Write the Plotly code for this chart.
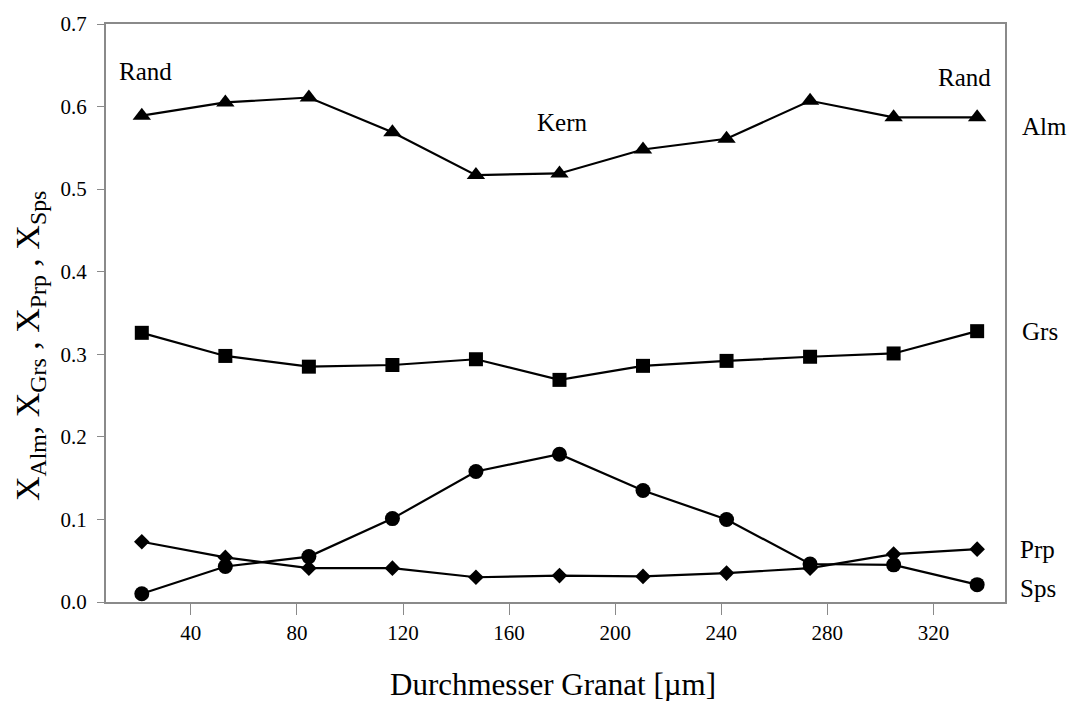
import plotly.graph_objects as go

# Data
diameter = [21.5, 53, 84.5, 116, 147.5, 179, 210.5, 242, 273.5, 305, 336.5]
alm = [0.589, 0.605, 0.611, 0.569, 0.517, 0.519, 0.548, 0.561, 0.607, 0.587, 0.587]
grs = [0.326, 0.298, 0.285, 0.287, 0.294, 0.269, 0.286, 0.292, 0.297, 0.301, 0.328]
prp = [0.073, 0.054, 0.041, 0.041, 0.030, 0.032, 0.031, 0.035, 0.041, 0.058, 0.064]
sps = [0.010, 0.043, 0.055, 0.101, 0.158, 0.179, 0.135, 0.100, 0.046, 0.045, 0.021]

x_ticks = [40, 80, 120, 160, 200, 240, 280, 320]
y_ticks = [0.0, 0.1, 0.2, 0.3, 0.4, 0.5, 0.6, 0.7]

FONT = "'Liberation Serif', 'Times New Roman', serif"

fig = go.Figure()

series = [
    ("Alm", alm, "triangle-up", 16),
    ("Grs", grs, "square", 14),
    ("Prp", prp, "diamond", 12),
    ("Sps", sps, "circle", 15),
]
for name, vals, sym, size in series:
    fig.add_trace(go.Scatter(
        x=diameter, y=vals, mode="lines+markers", name=name,
        line=dict(color="black", width=2.2),
        marker=dict(symbol=sym, size=size, color="black"),
        showlegend=False, cliponaxis=False,
    ))

L, R, T, B = 106, 65, 17, 99
W, H = 1070, 701
pw = W - L - R
ph = H - T - B

def px(xp):
    return (xp - L) / pw

def py(yp):
    return (H - B - yp) / ph

annots = [
    ("Rand", 145, 65, "center"),
    ("Rand", 964, 71, "center"),
    ("Kern", 562, 117, "center"),
    ("Alm", 1020, 121, "left"),
    ("Grs", 1020, 328, "left"),
    ("Prp", 1018, 549, "left"),
    ("Sps", 1018, 588, "left"),
]
for txt, xp, yp, anc in annots:
    fig.add_annotation(
        text=txt, xref="paper", yref="paper", x=px(xp), y=py(yp),
        xanchor=anc, yanchor="middle", showarrow=False,
        font=dict(family=FONT, size=25, color="black"),
    )

# Axis titles
fig.add_annotation(
    text="X<sub>Alm</sub>, X<sub>Grs</sub> , X<sub>Prp</sub> , X<sub>Sps</sub>",
    xref="paper", yref="paper", x=px(30), y=py(343),
    xanchor="center", yanchor="middle", textangle=-90, showarrow=False,
    font=dict(family=FONT, size=34, color="black"),
)
fig.add_annotation(
    text="Durchmesser Granat [µm]",
    xref="paper", yref="paper", x=px(553), y=py(686),
    xanchor="center", yanchor="middle", showarrow=False,
    font=dict(family=FONT, size=31, color="black"),
)

fig.update_xaxes(
    range=[8, 347], tickvals=x_ticks, ticktext=[str(v) for v in x_ticks],
    showgrid=False, zeroline=False,
    showline=True, linecolor="#8a8a8a", linewidth=2, mirror=True,
    ticks="outside", ticklen=11, tickcolor="#8a8a8a", tickwidth=1,
    tickfont=dict(family=FONT, size=21, color="black"),
)
fig.update_yaxes(
    range=[0, 0.7], tickvals=y_ticks, ticktext=[f"{v:.1f}" for v in y_ticks],
    showgrid=False, zeroline=False,
    showline=True, linecolor="#8a8a8a", linewidth=2, mirror=True,
    ticks="outside", ticklen=7, tickcolor="#8a8a8a", tickwidth=1,
    tickfont=dict(family=FONT, size=21, color="black"),
    ticklabelstandoff=6,
)

fig.update_layout(
    width=W, height=H,
    margin=dict(l=L, r=R, t=T, b=B),
    paper_bgcolor="white", plot_bgcolor="white",
    font=dict(family=FONT, color="black"),
)

fig.write_html(
    "out.html",
    config={"displayModeBar": False},
    post_script="document.body.style.margin='0';document.body.style.overflow='hidden';",
)
